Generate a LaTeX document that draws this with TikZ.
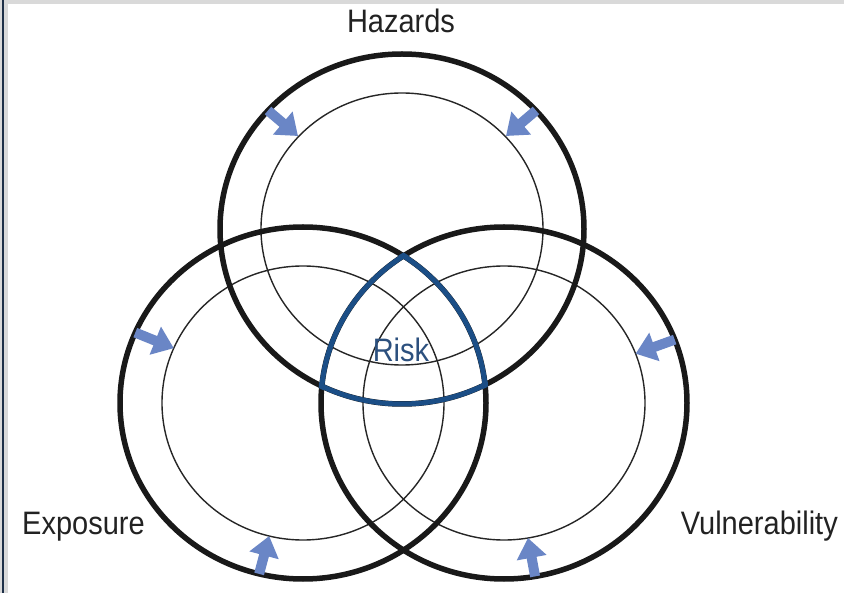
\documentclass[tikz,border=0pt]{standalone}
\usepackage{fontspec}
\setmainfont{Liberation Sans}
\usetikzlibrary{arrows.meta}
\definecolor{riskblue}{HTML}{1B4E86}
\definecolor{arrowblue}{HTML}{6A86C6}
\definecolor{frameg}{HTML}{D9D9D9}
\definecolor{framed}{HTML}{1E3048}
\definecolor{labelc}{HTML}{222222}
\definecolor{risktext}{HTML}{2C507E}
\begin{document}
\begin{tikzpicture}[x=1pt,y=-1pt,
  outerc/.style={line width=5.5pt,black!90},
  innerc/.style={line width=1.4pt,black!85},
  riskline/.style={line width=5pt,riskblue},
  inarrow/.style={line width=10pt,arrowblue,-{Triangle[width=29pt,length=20pt]}},
  lbl/.style={font=\fontsize{29}{36}\selectfont,text=labelc,inner sep=0pt}]
% canvas and frame
\fill[white] (0,0) rectangle (844,593);
\useasboundingbox (0,0) rectangle (844,593);
\fill[frameg] (0,0) rectangle (844,4);
\fill[frameg] (0,0) rectangle (8,593);
\fill[framed] (2,0) rectangle (4,593);
% centres
\coordinate (H) at (402,229);
\coordinate (E) at (303,403);
\coordinate (V) at (504,403);
% inner circles
\draw[innerc] (H) ellipse [x radius=141pt, y radius=136pt];
\draw[innerc] (E) ellipse [x radius=141pt, y radius=137pt];
\draw[innerc] (V) ellipse [x radius=141pt, y radius=137pt];
% outer circles
\draw[outerc] (H) ellipse [x radius=182pt, y radius=175pt];
\draw[outerc] (E) ellipse [x radius=183pt, y radius=176pt];
\draw[outerc] (V) ellipse [x radius=183pt, y radius=176pt];
% risk outline (intersection of the three outer circles)
\begin{scope}
  \clip (E) ellipse [x radius=186pt, y radius=179pt];
  \clip (V) ellipse [x radius=186pt, y radius=179pt];
  \draw[riskline] (H) ellipse [x radius=182pt, y radius=175pt];
\end{scope}
\begin{scope}
  \clip (H) ellipse [x radius=185pt, y radius=178pt];
  \clip (V) ellipse [x radius=186pt, y radius=179pt];
  \draw[riskline] (E) ellipse [x radius=183pt, y radius=176pt];
\end{scope}
\begin{scope}
  \clip (H) ellipse [x radius=185pt, y radius=178pt];
  \clip (E) ellipse [x radius=186pt, y radius=179pt];
  \draw[riskline] (V) ellipse [x radius=183pt, y radius=176pt];
\end{scope}
% arrow end points
\coordinate (a1t) at (268,110.5); \coordinate (a1h) at (298,136);
\coordinate (a2t) at (536,110.5); \coordinate (a2h) at (506,136);
\coordinate (a3t) at (135.3,332.6); \coordinate (a3h) at (173.8,348.2);
\coordinate (a4t) at (674.7,339.6); \coordinate (a4h) at (635.6,353.7);
\coordinate (a5t) at (259.1,573.9); \coordinate (a5h) at (269.2,536);
\coordinate (a6t) at (535.1,576.4); \coordinate (a6h) at (528,538);
\draw[inarrow] (a1t) -- (a1h);
\draw[inarrow] (a2t) -- (a2h);
\draw[inarrow] (a3t) -- (a3h);
\draw[inarrow] (a4t) -- (a4h);
\draw[inarrow] (a5t) -- (a5h);
\draw[inarrow] (a6t) -- (a6h);
% labels
\node[lbl,anchor=base] (haz) at (401,33) {\scalebox{1}[1.12]{Hazards}};
\node[lbl,anchor=base west] (exp) at (22,535) {\scalebox{1}[1.12]{Exposure}};
\node[lbl,anchor=base east] (vul) at (838,535) {\scalebox{1}[1.12]{Vulnerability}};
\node[lbl,anchor=base,text=risktext] (risk) at (401,362) {\scalebox{1}[1.12]{Risk}};
\end{tikzpicture}
\end{document}
